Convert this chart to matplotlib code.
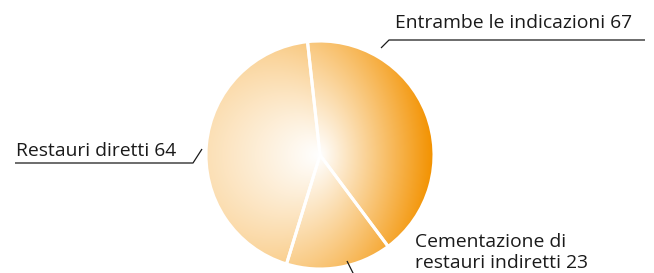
import numpy as np
import matplotlib
matplotlib.use('Agg')
import matplotlib.pyplot as plt

# slices as drawn, clockwise from the top separator
slice_values = [64, 23, 67]
# labels shown next to the pie
label_names = ['Entrambe le indicazioni', 'Cementazione di\nrestauri indiretti', 'Restauri diretti']
label_values = [67, 23, 64]

W, H = 654, 273
cx, cy, R = 320, H - 155, 114
orange = np.array([243, 146, 0]) / 255

fig = plt.figure(figsize=(W / 100, H / 100), dpi=100)
ax = fig.add_axes([0, 0, 1, 1])

wedges, _ = ax.pie(slice_values, center=(cx, cy), radius=R, startangle=96.3,
                   counterclock=False, colors=['none'] * 3,
                   wedgeprops=dict(edgecolor='white', linewidth=2.2))

# radial gradient: focal point at the centre, outer circle shifted left
s, Rg = 140, 253
xs = np.linspace(cx - R, cx + R, 400)
ys = np.linspace(cy - R, cy + R, 400)
X, Y = np.meshgrid(xs, ys)
dx, dy = X - cx, Y - cy
r = np.hypot(dx, dy) + 1e-9
ux = dx / r
d = -s * ux + np.sqrt(s ** 2 * ux ** 2 - s ** 2 + Rg ** 2)
t = np.clip(r / d, 0, 1)[..., None]
img = (1 - t) * np.ones(3) + t * orange

for w in wedges:
    im = ax.imshow(img, extent=(cx - R, cx + R, cy - R, cy + R), origin='lower',
                   interpolation='bilinear', zorder=1)
    im.set_clip_path(w)
    w.set_zorder(2)
    w.set_facecolor('none')

# leader lines (image coordinates -> y up)
def line(pts):
    xs_, ys_ = zip(*pts)
    ax.plot(xs_, [H - y for y in ys_], color='#1a1a1a', lw=0.9, zorder=3,
            solid_capstyle='butt')

line([(381, 48), (389, 40), (645, 40)])
line([(15, 163), (193, 163), (202, 149)])
line([(347, 261), (354, 275)])

font = dict(family='Open Sans', fontsize=13.9, color='#1a1a1a', ha='left', va='baseline')
ax.text(395, H - 27.5, f'{label_names[0]} {label_values[0]}', **font)
ax.text(16, H - 156, f'{label_names[2]} {label_values[2]}', **font)
first, second = label_names[1].split('\n')
ax.text(415, H - 247, first, **font)
ax.text(415, H - 268, f'{second} {label_values[1]}', **font)

ax.set_xlim(0, W)
ax.set_ylim(0, H)
ax.set_aspect('auto')
ax.axis('off')

fig.savefig('out.png', dpi=100)
